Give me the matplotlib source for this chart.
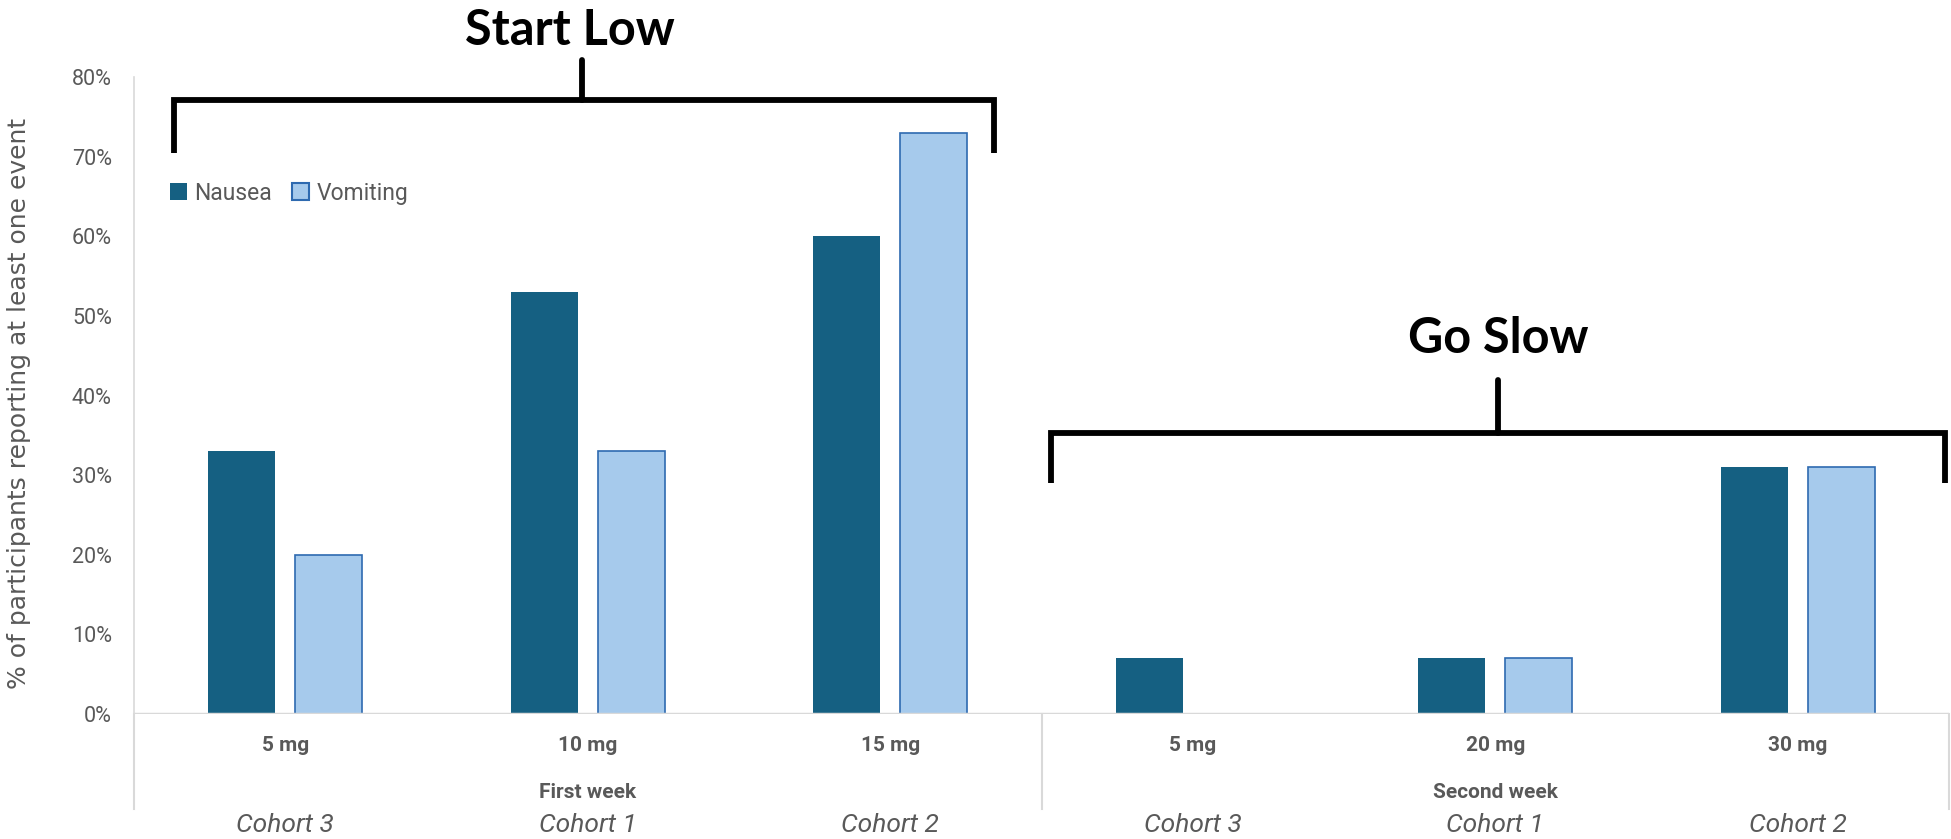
import numpy as np
import matplotlib
matplotlib.use("Agg")
import matplotlib.pyplot as plt
from matplotlib.patches import Patch

# data
doses = ["5 mg", "10 mg", "15 mg", "5 mg", "20 mg", "30 mg"]
cohorts = ["Cohort 3", "Cohort 1", "Cohort 2", "Cohort 3", "Cohort 1", "Cohort 2"]
weeks = ["First week", "Second week"]
nausea = [0.33, 0.53, 0.60, 0.07, 0.07, 0.31]
vomiting = [0.20, 0.33, 0.73, 0.00, 0.07, 0.31]

# colors
dark_blue = "#156082"
light_blue = "#A6CAEC"
edge_blue = "#2E6AB0"
gray_text = "#595959"
axis_gray = "#D9D9D9"

sans = ["Roboto", "DejaVu Sans"]

fig = plt.figure(figsize=(19.51, 8.39), dpi=100)
ax = fig.add_axes([0.0687, 0.149, 0.9303, 0.759])

x = np.arange(len(doses))
bw = 0.222
off = 0.144
ax.bar(x - off, nausea, width=bw, color=dark_blue, label="Nausea", zorder=2)
ax.bar(x + off, vomiting, width=bw, color=light_blue, edgecolor=edge_blue,
       linewidth=1.2, label="Vomiting", zorder=2)

ax.set_xlim(-0.5, len(doses) - 0.5)
ax.set_ylim(0, 0.8)
ticks = np.arange(0, 0.81, 0.1)
ax.set_yticks(ticks)
ax.set_yticklabels([f"{int(round(v * 100))}%" for v in ticks],
                   fontsize=15.5, color=gray_text, family=sans)
ax.tick_params(axis="y", length=0, pad=16)
ax.set_xticks([])

for s in ["top", "right", "bottom"]:
    ax.spines[s].set_visible(False)
ax.spines["left"].set_color(axis_gray)
ax.spines["left"].set_linewidth(1.2)
ax.axhline(0, color=axis_gray, linewidth=2.5, zorder=3)

ax.set_ylabel("% of participants reporting at least one event", fontsize=18,
              color=gray_text, family=["DejaVu Sans"], va="center")
ax.yaxis.set_label_coords(-0.0634, 0.487)

# category labels below axis
trans = ax.get_xaxis_transform()
for i, (d, c) in enumerate(zip(doses, cohorts)):
    ax.text(i, -0.050, d, transform=trans, ha="center", va="center",
            fontsize=15, fontweight="bold", color=gray_text, family=sans)
    ax.text(i, -0.175, c, transform=trans, ha="center", va="center",
            fontsize=19, style="italic", color=gray_text, family=sans)
for j, w in enumerate(weeks):
    ax.text(3 * j + 1, -0.124, w, transform=trans, ha="center", va="center",
            fontsize=15, fontweight="bold", color=gray_text, family=sans)
for xs in [-0.5, 2.5, 5.5]:
    ax.plot([xs, xs], [0, -0.149], transform=trans, color=axis_gray,
            linewidth=1.5, clip_on=False)

# brackets
def bracket(x0, x1, xm, y, y_end, y_top, label, tx, ty):
    kw = dict(color="black", linewidth=4.2, clip_on=False, zorder=4)
    ax.plot([x0, x0, x1, x1], [y_end, y, y, y_end], solid_joinstyle="miter",
            solid_capstyle="butt", **kw)
    ax.plot([xm, xm], [y, y_top], solid_capstyle="round", **kw)
    ax.text(tx, ty, label, ha="center", va="center", fontsize=35,
            fontweight="bold", color="black", family=["Lato", "DejaVu Sans"])

bracket(-0.368, 2.343, 0.981, 0.771, 0.7046, 0.821, "Start Low", 0.941, 0.859)
bracket(2.531, 5.487, 4.009, 0.3529, 0.2901, 0.4195, "Go Slow", 4.009, 0.4722)

handles = [Patch(facecolor=dark_blue, label="Nausea"),
           Patch(facecolor=light_blue, edgecolor=edge_blue, linewidth=1.5, label="Vomiting")]
ax.legend(handles=handles, loc="center left", bbox_to_anchor=(0.0197, 0.818), ncol=2,
          frameon=False, handlelength=0.75, handleheight=0.75, handletextpad=0.3,
          columnspacing=0.9, borderaxespad=0, borderpad=0,
          prop={"family": sans, "size": 16.5}, labelcolor=gray_text)

fig.savefig("out.png", dpi=100)
